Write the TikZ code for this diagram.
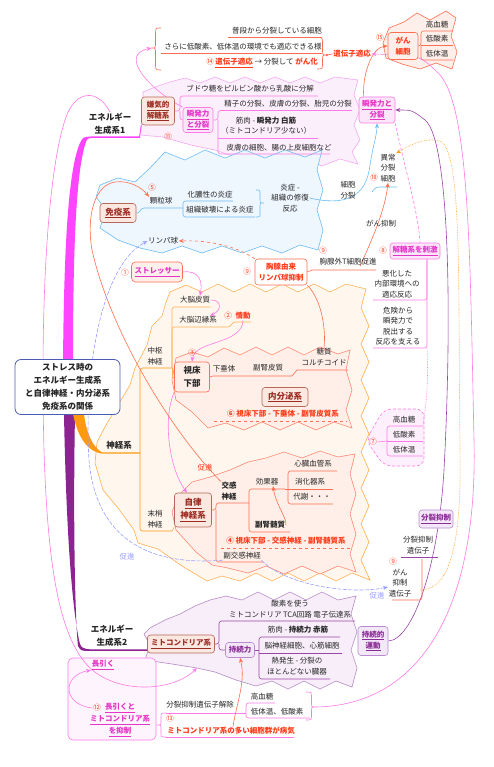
\documentclass[tikz,border=0pt]{standalone}
\usepackage{fontspec}
\setmainfont{Noto Sans CJK JP}
\usetikzlibrary{arrows.meta}
\pgfdeclarelayer{back}
\pgfdeclarelayer{mid}
\pgfsetlayers{back,mid,main}
\definecolor{txt}{HTML}{262626}
\definecolor{redT}{HTML}{FF3B1A}
\definecolor{salL}{HTML}{FF6E50}
\definecolor{pinkT}{HTML}{E535C8}
\definecolor{pinkL}{HTML}{FF7AE6}
\definecolor{pinkF}{HTML}{FCE6FA}
\definecolor{brownT}{HTML}{9C2B22}
\definecolor{brownB}{HTML}{B8685A}
\definecolor{boxF}{HTML}{FBE8E0}
\definecolor{magB}{HTML}{FF44FF}
\definecolor{purB}{HTML}{8B2390}
\definecolor{purL}{HTML}{9A46A8}
\definecolor{purT}{HTML}{8A2C96}
\definecolor{purBd}{HTML}{B98AD0}
\definecolor{purF}{HTML}{F3E8F8}
\definecolor{oraB}{HTML}{FF9A10}
\definecolor{oraL}{HTML}{FFB050}
\definecolor{blueL}{HTML}{6CBDF2}
\definecolor{immF}{HTML}{EEF6FE}
\definecolor{lavL}{HTML}{9AA0FF}
\definecolor{nerveF}{HTML}{FFF6EE}
\definecolor{innerF}{HTML}{FFEFE8}
\definecolor{innerB}{HTML}{FF8870}
\definecolor{eoneF}{HTML}{FCEFFC}
\definecolor{eoneB}{HTML}{F4A8F0}
\definecolor{etwoF}{HTML}{F7EEF9}
\definecolor{etwoB}{HTML}{B58AC5}
\definecolor{cenB}{HTML}{4A5DB0}
\definecolor{ganF}{HTML}{FFEFEA}
\tikzset{
  base/.style={font=\fontsize{7.5}{10.5}\selectfont, inner sep=0.5pt, align=center, text=txt},
  bb/.style={base, font=\fontsize{7.5}{10.5}\selectfont\bfseries},
  big/.style={base, font=\fontsize{8.5}{13}\selectfont\bfseries},
  num/.style={base, text=redT},
  brownbox/.style={bb, draw=brownB, fill=boxF, rounded corners=3pt, text=brownT, line width=0.6pt},
  pinkbox/.style={bb, draw=pinkL, fill=pinkF, rounded corners=3pt, text=pinkT, line width=0.6pt},
  purbox/.style={bb, draw=purBd, fill=purF, rounded corners=3pt, text=purT, line width=0.6pt},
  redbox/.style={bb, draw=salL, fill=white, rounded corners=3pt, text=redT, line width=0.6pt},
  arr/.style={-{Stealth[length=5pt,width=4pt]}},
  ln/.style={line width=0.6pt},
}
\begin{document}
\begin{tikzpicture}[x=1pt,y=-1pt]
\useasboundingbox (0,0) rectangle (494,767);
\begin{pgfonlayer}{back}
\fill[white] (0,0) rectangle (494,767);
\end{pgfonlayer}

% ---------------- nodes ----------------
\node[base] (t1) at (277,31) {普段から分裂している細胞};
\node[base] (t2) at (243,47) {さらに低酸素、低体温の環境でも適応できる様};
\node[base] (t3) at (262,63) {{\color{redT}⑭\ \bfseries\underline{遺伝子適応}} → 分裂して {\color{redT}\bfseries がん化}};
\node[bb,text=redT] (idenshi) at (352,54) {遺伝子適応};
\node[num] (n15) at (380,38) {⑮};
\node[bb, draw=salL, fill=ganF, rounded corners=3pt, text=redT, minimum width=30pt, minimum height=27pt, line width=0.6pt] (gan) at (403,46) {がん\\細胞};
\node[base] (g1) at (437,25) {高血糖};
\node[base] (g2) at (437,39) {低酸素};
\node[base] (g3) at (437,53.5) {低体温};
\coordinate (braceL) at (151.5,48);
\coordinate (braceR) at (327,55);

\node[big] (e1) at (110,123.5) {エネルギー\\生成系1};
\node[brownbox, minimum width=33pt, minimum height=28pt] (kenki) at (158,111) {\underline{嫌気的}\\\underline{解糖系}};
\node[base] (budou) at (250,89) {ブドウ糖をピルビン酸から乳酸に分解};
\node[pinkbox, minimum width=30pt, minimum height=25pt] (shunL) at (198,120) {\underline{瞬発力}\\\underline{と分裂}};
\node[num] (n11) at (168,137) {⑪};
\node[base] (c1) at (288,104) {精子の分裂、皮膚の分裂、胎児の分裂};
\node[base] (c2) at (266,125.5) {筋肉 - {\bfseries 瞬発力 白筋}\\（ミトコンドリア少ない）};
\node[base] (c3) at (279,148) {皮膚の細胞、腸の上皮細胞など};
\node[pinkbox, minimum width=36pt, minimum height=26pt] (shunR) at (377,110) {\underline{瞬発力と}\\\underline{分裂}};

\node[brownbox, font=\fontsize{8.5}{10}\selectfont\bfseries, minimum width=36pt, minimum height=19pt] (meneki) at (118,213) {\underline{免疫系}};
\node[num] (n5) at (152,188) {⑤};
\node[base] (kary) at (161,201) {顆粒球};
\node[base] (kano) at (210,195) {化膿性の炎症};
\node[base] (soshiki) at (220,210) {組織破壊による炎症};
\node[base] (ensho) at (290,198) {炎症 -\\組織の修復\\反応};
\node[base] (rinpa) at (163,241) {リンパ球};
\node[base] (saibo) at (348,190) {細胞\\分裂};
\node[base] (ijo) at (388,168) {異常\\分裂\\細胞};
\node[num] (n10) at (374,178) {⑩};
\node[base] (ganlbl) at (381,224) {がん抑制};

\node[redbox, minimum width=52pt, minimum height=26pt] (kyosen) at (281,272) {胸腺由来\\リンパ球抑制};
\node[num] (n9a) at (247,272) {⑨};
\node[num] (n9b) at (323,251) {⑨};
\node[base] (kyogai) at (348,262) {胸腺外T細胞促進};
\node[pinkbox, minimum width=50pt, minimum height=16pt] (kaito) at (415,251) {\underline{解糖系を刺激}};
\node[num] (n8) at (383,251) {⑧};
\node[base] (akka) at (397,284) {悪化した\\内部環境への\\適応反応};
\node[base] (kiken) at (398,326) {危険から\\瞬発力で\\脱出する\\反応を支える};
\node[num] (n7) at (373,442) {⑦};
\node[base] (s1) at (404,420) {高血糖};
\node[base] (s2) at (404,435) {低酸素};
\node[base] (s3) at (404,450) {低体温};

\node[big, draw=cenB, fill=white, rounded corners=6pt, line width=0.8pt, minimum width=105pt, minimum height=55pt] (root) at (67.5,387) {ストレス時の\\エネルギー生成系\\と自律神経・内分泌系\\免疫系の関係};

\node[big] (shinkei) at (119,445) {神経系};
\node[base] (chusu) at (155,356) {中枢\\神経};
\node[base] (massho) at (155,519) {末梢\\神経};
\node[num] (n1) at (125,273) {①};
\node[bb, draw=salL, fill=ganF, rounded corners=4pt, text=pinkT, minimum width=51pt, minimum height=20pt, line width=0.6pt] (stress) at (157,272) {\underline{ストレッサー}};
\node[base] (daino) at (195,300) {大脳皮質};
\node[base] (henen) at (198,320) {大脳辺縁系};
\node[num] (n2) at (228,316) {②};
\node[bb,text=redT] (jodo) at (243,316) {情動};
\node[num] (n3) at (192,353) {③};
\node[bb, font=\fontsize{8.5}{13}\selectfont\bfseries, draw=salL, fill=innerF, rounded corners=3pt, minimum width=35pt, minimum height=30pt, line width=0.6pt] (shishou) at (192,377) {視床\\下部};
\node[base] (kasui) at (224,369) {下垂体};
\node[base] (fukuhi) at (268,368) {副腎皮質};
\node[base] (toshitsu) at (324,357) {糖質\\コルチコイド};
\node[brownbox, font=\fontsize{8.5}{10}\selectfont\bfseries, minimum width=46pt, minimum height=19pt] (naibun) at (285,397) {\underline{内分泌系}};
\node[bb,text=redT] (n6) at (283,414) {⑥ 視床下部 - 下垂体 - 副腎皮質系};
\node[brownbox, font=\fontsize{8.5}{13}\selectfont\bfseries, minimum width=37pt, minimum height=34pt] (jiritsu) at (193,510) {\underline{自律}\\\underline{神経系}};
\node[bb] (kokan) at (229,491) {交感\\神経};
\node[base] (koka) at (267,482) {効果器};
\node[base] (shinzo) at (313,464) {心臓血管系};
\node[base] (shoka) at (310,482) {消化器系};
\node[base] (taisha) at (312,497) {代謝・・・};
\node[bb] (fukuzui) at (270,525) {副腎髄質};
\node[bb,text=redT] (n4) at (286,541) {④ 視床下部 - 交感神経 - 副腎髄質系};
\node[base] (fukukan) at (242,556) {副交感神経};
\node[base,text=redT] (sok1) at (205,468) {促進};
\node[base,text=lavL] (sok2) at (127,557) {促進};
\node[base,text=lavL] (sok3) at (377,596) {促進};

\node[purbox, minimum width=34pt, minimum height=18pt] (bunretsu) at (436,519) {\underline{分裂抑制}};
\node[base] (bunidn) at (418,545) {分裂抑制\\遺伝子};
\node[num] (n9c) at (393,562) {⑨};
\node[base] (ganyoku) at (400,583) {がん\\抑制\\遺伝子};
\node[purbox, minimum width=30pt, minimum height=29pt] (jizoku) at (373,641) {\underline{持続的}\\\underline{運動}};

\node[big] (e2) at (112,636) {エネルギー\\生成系2};
\node[brownbox, minimum width=67pt, minimum height=18pt] (mito) at (181,644) {\underline{ミトコンドリア系}};
\node[base] (sanso) at (290,609) {酸素を使う\\ミトコンドリア TCA回路 電子伝達系};
\node[purbox, minimum width=29pt, minimum height=15pt] (jizokuryoku) at (240,650) {持続力};
\node[base] (kin) at (298,630) {筋肉 - {\bfseries 持続力 赤筋}};
\node[base] (noshin) at (302,646) {脳神経細胞、心筋細胞};
\node[base] (netsu) at (297,666) {熱発生 - 分裂の\\ほとんどない臓器};

\node[bb,text=pinkT] (naga) at (103,665) {\underline{長引く}};
\node[num] (n12) at (97,708) {⑫};
\node[bb,text=pinkT, font=\fontsize{7.5}{12}\selectfont\bfseries] (naga2) at (120,720) {\underline{長引くと}\\\underline{ミトコンドリア系}\\\underline{を抑制}};
\node[base] (bunkai) at (200,705) {分裂抑制遺伝子解除};
\node[num] (n13) at (170,719) {⑬};
\node[bb,text=redT] (byoki) at (231,731) {ミトコンドリア系の多い細胞群が病気};
\node[base] (kk) at (262,697) {高血糖};
\node[base] (tt) at (277,712) {低体温、低酸素};
\coordinate (braceB) at (316,707);
\coordinate (braceN) at (157,725);
\coordinate (mitoIn) at (197,668);

% ---------------- background shapes ----------------
\begin{pgfonlayer}{back}
\filldraw[fill=eoneF, draw=eoneB, ln] (143,92) -- (158,86) -- (170,82) -- (185,78) -- (200,83) -- (215,77) -- (230,83) -- (245,77) -- (260,83) -- (275,77) -- (290,83) -- (305,77) -- (320,83) -- (335,77) -- (358,80) -- (354,95) -- (360,110) -- (354,125) -- (360,140) -- (352,152) -- (358,164) -- (340,159) -- (322,166) -- (305,159) -- (288,166) -- (270,159) -- (252,164) -- (235,157) -- (215,150) -- (195,146) -- (180,142) -- (163,137) -- (140,135) -- (143,115) -- cycle;
\filldraw[fill=immF, draw=blueL, ln] (100,185) -- (118,178) -- (135,182) -- (150,168) -- (165,152) -- (185,160) -- (205,150) -- (225,158) -- (245,150) -- (265,158) -- (285,150) -- (305,157) -- (322,150) -- (317,170) -- (323,190) -- (317,210) -- (323,230) -- (318,250) -- (300,245) -- (282,253) -- (262,246) -- (242,253) -- (222,246) -- (202,253) -- (182,246) -- (162,253) -- (140,248) -- (118,240) -- (100,228) -- (106,210) -- (96,197) -- cycle;
\filldraw[fill=nerveF, draw=oraL, ln] (170,292) -- (186,285) -- (202,292) -- (218,284) -- (234,292) -- (250,284) -- (266,292) -- (282,284) -- (298,292) -- (314,284) -- (330,292) -- (346,284) -- (366,289) -- (361,308) -- (369,326) -- (361,344) -- (369,362) -- (361,380) -- (369,398) -- (361,416) -- (369,434) -- (361,452) -- (369,470) -- (361,488) -- (369,506) -- (361,524) -- (369,542) -- (361,560) -- (370,580) -- (352,573) -- (336,581) -- (320,573) -- (304,581) -- (288,573) -- (272,581) -- (256,573) -- (240,581) -- (222,576) -- (207,581) -- (182,566) -- (158,549) -- (138,543) -- (134,530) -- (118,508) -- (103,490) -- (95,463) -- (97,442) -- (106,425) -- (118,405) -- (130,385) -- (135,368) -- (147,345) -- (152,326) -- (162,316) -- (166,302) -- cycle;
\filldraw[fill=innerF, draw=innerB, ln] (176,358) -- (192,352) -- (208,357) -- (224,348) -- (240,355) -- (256,347) -- (272,355) -- (288,347) -- (304,355) -- (320,347) -- (338,354) -- (350,350) -- (346,370) -- (352,390) -- (346,410) -- (352,428) -- (334,422) -- (316,430) -- (298,422) -- (280,430) -- (262,422) -- (244,430) -- (226,423) -- (208,428) -- (192,412) -- (176,400) -- (172,380) -- cycle;
\filldraw[fill=innerF, draw=innerB, ln] (192,482) -- (210,477) -- (230,470) -- (248,462) -- (266,458) -- (284,452) -- (302,458) -- (320,451) -- (338,457) -- (355,454) -- (350,474) -- (356,494) -- (350,514) -- (356,534) -- (350,554) -- (356,572) -- (338,566) -- (320,574) -- (302,566) -- (284,574) -- (266,566) -- (248,573) -- (228,568) -- (212,565) -- (196,552) -- (176,530) -- (172,512) -- (178,496) -- cycle;
\filldraw[fill=etwoF, draw=etwoB, ln] (150,628) -- (165,620) -- (180,614) -- (195,606) -- (210,600) -- (226,596) -- (242,600) -- (258,592) -- (274,600) -- (290,592) -- (306,600) -- (322,592) -- (338,600) -- (356,596) -- (351,614) -- (357,632) -- (351,650) -- (357,668) -- (352,687) -- (336,681) -- (320,689) -- (304,681) -- (288,689) -- (272,681) -- (256,686) -- (236,680) -- (215,672) -- (197,668) -- (172,664) -- (145,660) -- (150,645) -- (144,634) -- cycle;
\filldraw[fill=ganF, draw=salL, ln] (389,28) -- (404,22) -- (417,13) -- (430,20) -- (446,11) -- (456,18) -- (451,36) -- (457,52) -- (452,69) -- (436,63) -- (420,69) -- (402,64) -- (386,58) -- (383,43) -- cycle;
\filldraw[fill=pinkF!60, draw=pinkL, densely dashed, ln, rounded corners=8pt] (366,440) -- (384,409) -- (424,409) -- (424,466) -- (384,466) -- cycle;
\node[draw=pinkL, fill=pinkF!45, rounded corners=5pt, minimum width=88pt, minimum height=82pt, inner sep=0pt, line width=0.6pt] (nbox) at (112,699) {};
\end{pgfonlayer}

% ---------------- connectors ----------------
\begin{pgfonlayer}{mid}
% thick branches
\fill[magB] (63,362) .. controls (64,250) and (68,170) .. (80,143) .. controls (83,137) .. (92,136.4) -- (140,136.4) -- (140,137.8) -- (92,137.8) .. controls (87,138.5) .. (85,145) .. controls (76,175) and (73,250) .. (73,362) -- cycle;
\fill[purB] (64,414) .. controls (66,520) and (71,600) .. (79,640) .. controls (81,648) .. (90,649.4) -- (148,649.4) -- (148,650.8) -- (90,650.8) .. controls (81,651) .. (78,646) .. controls (75,620) and (73,520) .. (75,414) -- cycle;
\fill[oraB] (73,414) .. controls (78,438) and (88,452) .. (102,453.6) -- (140,453.6) -- (140,452.3) -- (102,452.3) .. controls (93,448) and (86,432) .. (84,414) -- cycle;

% top group
\draw[salL,ln] (161,28) .. controls (155.5,28) .. (155.5,34) -- (155.5,43) .. controls (155.5,48) .. (braceL) .. controls (155.5,48) .. (155.5,53) -- (155.5,64) .. controls (155.5,70) .. (161,70);
\draw[salL,ln] (228,37.5) -- (322,37.5);
\draw[salL,ln] (161,53) -- (322,53);
\draw[salL,ln] (317,37.5) .. controls (322.5,37.5) .. (322.5,43) -- (322.5,50) .. controls (322.5,55) .. (braceR) .. controls (322.5,55) .. (322.5,60) -- (322.5,64) .. controls (322.5,69) .. (317,69);
\draw[salL,ln] (braceR) -- (idenshi.west);
\fill[salL] (braceR) circle (1.3);
\draw[salL,ln,rounded corners=2.5pt] (gan.east) -- (421,46) |- (453,31);
\draw[salL,ln,rounded corners=2.5pt] (421,46) |- (453,60);
\draw[salL,ln] (421,45.5) -- (453,45.5);
\draw[salL,ln,arr] ([xshift=5pt]shunR.north west) .. controls (362,75) and (372,47) .. (gan.west);
\draw[pinkL,ln,arr] (shunL.north west) .. controls (150,90) and (118,55) .. (braceL);

% energy 1
\draw[magB,line width=0.8pt] (139.5,137.1) -- (kenki.south west);
\draw[pinkL,ln,rounded corners=2.5pt] (kenki.east) -- (180,111) |- (318,96);
\draw[pinkL,ln,rounded corners=2.5pt] (180,111) |- (shunL.west);
\draw[pinkL,ln,rounded corners=2.5pt] (shunL.east) -- (218,120) |- (352,110.5);
\draw[pinkL,ln,rounded corners=2.5pt] (218,120) |- (330,154);
\draw[pinkL,ln] (218,138) -- (318,138);

% immune
\draw[blueL,ln] (meneki.east) .. controls (140,214) and (140,208) .. (144,208) -- (183,208);
\draw[blueL,ln,rounded corners=2.5pt] (233,201) -| (183,217) -- (255,217);
\draw[blueL,ln] (256,190) .. controls (260,190) .. (260,194) -- (260,199) .. controls (260,203) .. (264,203) .. controls (260,203) .. (260,207) -- (260,213) .. controls (260,217) .. (256,217);
\draw[blueL,ln,arr] (ensho.east) .. controls (345,206) and (366,198) .. (370,165) .. controls (373,145) and (377,135) .. (shunR.south);
\draw[blueL,ln] (372,192) .. controls (376,187) .. (381,187) -- (397,187);

% thymus
\draw[salL,ln] (kyosen.east) -- (312,270) -- (376,270);
\draw[salL,ln,dashed,arr] (kyosen.north west) .. controls (235,245) and (205,240) .. (rinpa.east);
\draw[salL,ln] (kyosen.south east) .. controls (322,300) and (326,330) .. (toshitsu.north);
\draw[salL,ln,arr] ([xshift=12pt]kyogai.south) .. controls (372,240) and (385,210) .. (ijo.south);

% glycolysis stimulation
\draw[pinkL,ln,rounded corners=2.5pt] ([xshift=12pt]kaito.south) |- (373,300);
\draw[pinkL,ln,rounded corners=2.5pt] ([xshift=12pt]kaito.south) |- (373,348);
\draw[pinkL,ln,densely dotted] (427,348) .. controls (429,390) and (425,410) .. (423,426);
\draw[pinkL,ln,densely dashed] (shunR.south east) .. controls (405,170) and (418,210) .. ([xshift=5pt]kaito.north);
\draw[pinkL,ln,rounded corners=2.5pt] (423,426) -| (387,456) -- (423,456);
\draw[pinkL,ln] (387,441) -- (423,441);
\draw[pinkL,ln] (n7.east) -- (387,441);

% nervous system
\draw[oraB,ln,rounded corners=2.5pt] (140,453) |- (172,368);
\draw[oraB,ln,rounded corners=2.5pt] (140,453) |- (172,531);
\draw[oraL,ln,rounded corners=2.5pt] (172,368) |- (210,307);
\draw[oraL,ln,rounded corners=2.5pt] (172,368) |- (230,327) -- (233,322) -- (251,322);
\draw[oraL,ln] (172,368) |- (shishou.west);
\draw[oraL,ln] (172,531) -- (jiritsu.south west);
\draw[pinkL,ln,arr] (stress.east) .. controls (198,270) and (203,280) .. ([xshift=5pt]daino.north);
\draw[pinkL,ln,arr] (daino.east) .. controls (222,300) and (222,310) .. ([xshift=12pt]henen.north);
\draw[pinkL,ln,arr] (jodo.south) .. controls (242,345) and (195,340) .. (shishou.north);
\draw[pinkL,ln,arr] (shishou.south west) .. controls (162,420) and (170,470) .. ([xshift=-6pt]jiritsu.north);

% endocrine
\draw[salL,ln] (shishou.east) -- (213,376) -- (292,376) -- (297,370) -- (348,370);
\draw[salL,ln,dashed] (214,421) -- (347,421);

% autonomic
\draw[salL,ln,rounded corners=2.5pt] (jiritsu.east) -- (216,510) |- (249,503);
\draw[salL,ln,rounded corners=2.5pt] (216,510) |- (263,562);
\draw[salL,ln,rounded corners=2.5pt] (285,489) -| (249,532) -- (290,532);
\draw[salL,ln,rounded corners=2.5pt] (337,471) -| (288,504) -- (333,504);
\draw[salL,ln] (285,489) -- (333,489);
\draw[salL,ln,arr] (fukuzui.east) .. controls (288,520) and (276,505) .. ([xshift=6pt]koka.south);
\draw[salL,ln,dashed] (221,548) -- (350,548);

% long connectors
\draw[salL,ln,arr] (kokan.north west) .. controls (170,430) and (110,330) .. (92,250) .. controls (86,215) and (95,185) .. (115,182) .. controls (130,180) and (142,188) .. (kary.north west);
\draw[lavL,ln,dash pattern=on 4pt off 1.5pt,arr] (fukukan.south west) .. controls (150,566) and (96,540) .. (89,460) .. controls (84,380) and (98,268) .. (rinpa.west);
\draw[lavL,ln,dash pattern=on 4pt off 1.5pt,arr] (fukukan.south east) .. controls (285,585) and (350,595) .. ([yshift=-4pt]ganyoku.west);
\draw[oraB,ln,densely dotted,arr] (420,590) .. controls (445,590) and (462,560) .. (460,450) .. controls (458,280) and (462,160) .. (442,142) .. controls (425,135) and (405,148) .. (ijo.north east);
\draw[purL,ln,arr] (jizoku.east) .. controls (412,640) and (438,570) .. (444,470) .. controls (452,320) and (450,140) .. (425,120) .. controls (412,110) .. (shunR.east);
\draw[pinkL,ln,arr] (braceB) .. controls (420,705) and (478,610) .. (474,440) .. controls (470,260) and (470,110) .. (440,75) .. controls (420,55) .. (idenshi.east);
\draw[pinkL,ln,arr] (e1.north) .. controls (100,92) and (80,88) .. (68,112) .. controls (48,160) and (40,300) .. (44,450) .. controls (48,580) and (62,640) .. (90,668) .. controls (118,694) and (172,692) .. (mitoIn);

% right bottom
\draw[purL,ln] (401,557) -- (438,557);
\draw[salL,ln,rounded corners=2.5pt] (392,600) -| (422,559);

% energy 2
\draw[purL,ln,rounded corners=2.5pt] (mito.east) -- (219,644) |- (355,621);
\draw[purL,ln,rounded corners=2.5pt] (219,644) |- (jizokuryoku.west);
\draw[purL,ln,rounded corners=2.5pt] (340,637) -| (259,679) -- (330,679);
\draw[purL,ln] (jizokuryoku.east) -- (259,650);
\draw[purL,ln] (259,653) -- (342,653);

% bottom left
\draw[pinkL,ln,arr] (n12.west) .. controls (62,705) and (62,675) .. (naga.south west);
\draw[pinkL,ln] (166,713) .. controls (161,713) .. (161,718) -- (161,721) .. controls (161,725) .. (braceN) .. controls (161,725) .. (161,729) -- (161,733) .. controls (161,737) .. (166,737);
\draw[pinkL,ln] (166,713) -- (246,713);
\draw[pinkL,ln] (166,737) -- (294,737);
\draw[pinkL,ln,rounded corners=2.5pt] (275,703) -| (246,718) -- (310,718);
\draw[pinkL,ln] (306,692) .. controls (311.5,692) .. (311.5,697) -- (311.5,703) .. controls (311.5,707) .. (braceB) .. controls (311.5,707) .. (311.5,711) -- (311.5,715) .. controls (311.5,720) .. (306,720);
\draw[salL,ln,arr] ([xshift=2pt]byoki.north) .. controls (236,705) and (246,682) .. (jizokuryoku.south);
\end{pgfonlayer}
\end{tikzpicture}
\end{document}
